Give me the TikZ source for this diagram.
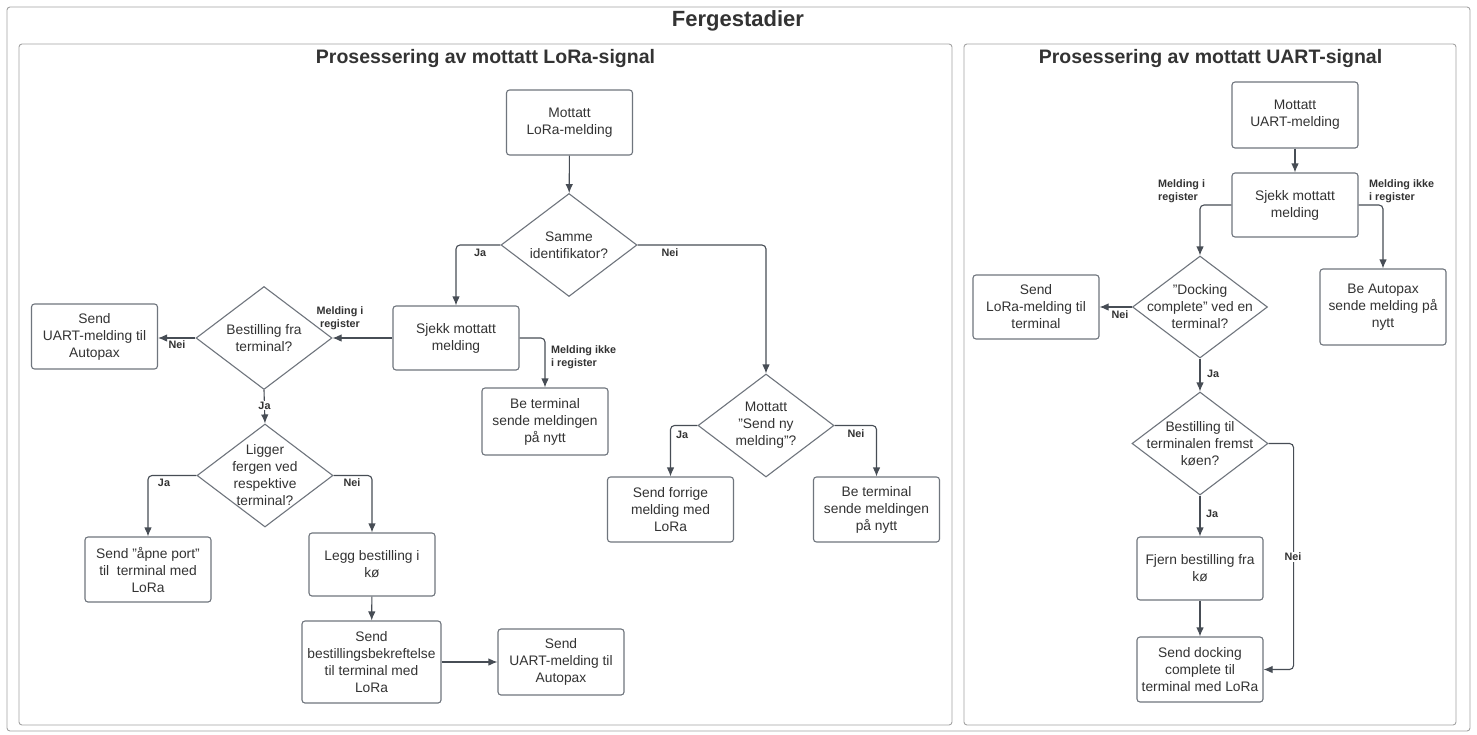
\documentclass[tikz,border=0pt]{standalone}
\usepackage{fontspec}
\setmainfont{Liberation Sans}
\usetikzlibrary{shapes.geometric,arrows.meta}

\definecolor{boxc}{HTML}{6F757D}
\definecolor{linec}{HTML}{474D55}
\definecolor{txtc}{HTML}{333333}
\definecolor{framec}{HTML}{A3A3A3}

\tikzset{
  bodyfont/.style={font=\fontsize{13.8pt}{17pt}\selectfont},
  stepbox/.style={draw=boxc, line width=1.1pt, rounded corners=3pt, fill=white,
    minimum width=126pt, minimum height=65pt, align=center, bodyfont,
    text=txtc, inner sep=2pt},
  decision/.style={diamond, draw=boxc, line width=1.1pt, fill=white,
    minimum width=136pt, minimum height=103pt, inner sep=0pt},
  dtext/.style={align=center, bodyfont, text=txtc, inner sep=0pt},
  conn/.style={draw=linec, line width=1.1pt, rounded corners=4pt,
    -{Latex[length=9pt,width=7.5pt]}},
  lab/.style={font=\bfseries\fontsize{10.8pt}{13pt}\selectfont, text=txtc,
    inner sep=1pt},
  panel/.style={draw=framec, line width=0.9pt, rounded corners=3pt},
  ptitle/.style={font=\bfseries\fontsize{19.5pt}{22pt}\selectfont, text=txtc},
}

\begin{document}
\begin{tikzpicture}[x=1pt, y=-1pt]
\useasboundingbox (0,0) rectangle (1477,734);
\fill[white] (0,0) rectangle (1477,734);

% frames and titles
\draw[panel] (7,7) rectangle (1470,731);
\node[font=\bfseries\fontsize{22pt}{24pt}\selectfont, text=txtc] (maintitle) at (738,21) {Fergestadier};
\draw[panel] (19,44) rectangle (952,725);
\node[ptitle] (titleL) at (485.5,58) {Prosessering av mottatt LoRa-signal};
\draw[panel] (964,44) rectangle (1456,725);
\node[ptitle] (titleR) at (1210.5,58) {Prosessering av mottatt UART-signal};

% ---------------- LoRa processing ----------------
\node[stepbox] (lora) at (569.5,122.5) {Mottatt\\LoRa-melding};
\node[decision, label={[dtext]center:Samme\\identifikator?}] (same) at (569,245) {};
\draw[conn] (lora) -- (same);

\node[stepbox, minimum height=64pt] (sjekkL) at (456,338) {Sjekk mottatt\\melding};
\draw[conn] (same.west) -| (sjekkL.north);
\node[lab] (jaSame) at (480,253) {Ja};

\node[decision, label={[dtext]center:Mottatt\\"Send ny\\melding"?}] (sendny) at (766,425.5) {};
\draw[conn] (same.east) -| (sendny.north);
\node[lab] (neiSame) at (670,253) {Nei};

\node[stepbox] (forrige) at (670.5,509.5) {Send forrige\\melding med\\LoRa};
\node[stepbox] (beT2) at (876.5,509.5) {Be terminal\\sende meldingen\\på nytt};
\draw[conn] (sendny.west) -| (forrige.north);
\draw[conn] (sendny.east) -| (beT2.north);
\node[lab] (jaNy) at (682,435) {Ja};
\node[lab] (neiNy) at (856,434) {Nei};

\node[stepbox, minimum height=67pt] (beT1) at (545,421.5) {Be terminal\\sende meldingen\\på nytt};
\draw[conn] (sjekkL.east) -| (beT1.north);
\node[lab, anchor=west, align=left] (ikkeL) at (550,357.5) {Melding ikke\\i register};

\node[decision, label={[dtext]center:Bestilling fra\\terminal?}] (bestfra) at (264,338) {};
\draw[conn] (sjekkL.west) -- (bestfra.east);
\node[lab, align=center] (iregL) at (340,318) {Melding i\\register};

\node[stepbox] (uartL) at (94.5,336.5) {Send\\UART-melding til\\Autopax};
\draw[conn] (bestfra.west) -- (bestfra.west -| uartL.east);
\node[lab] (neiBest) at (177,345) {Nei};

\node[decision, label={[dtext]center:Ligger\\fergen ved\\respektive\\terminal?}] (ligger) at (265,475.5) {};
\draw[conn] (bestfra.south) -- (ligger.north);
\node[lab, fill=white] (jaBest) at (264.5,405.5) {Ja};

\node[stepbox] (aapne) at (148,569.5) {Send "åpne port"\\til\ \ terminal med\\LoRa};
\draw[conn] (ligger.west) -| (aapne.north);
\node[lab] (jaLig) at (164,483) {Ja};

\node[stepbox, minimum height=63pt] (legg) at (372,564.5) {Legg bestilling i\\kø};
\draw[conn] (ligger.east) -| (legg.north);
\node[lab] (neiLig) at (352,483) {Nei};

\node[stepbox, minimum width=139pt, minimum height=82pt] (bekr) at (371.5,662) {Send\\bestillingsbekreftelse\\til terminal med\\LoRa};
\draw[conn] (legg) -- (bekr);

\node[stepbox, minimum height=66pt] (uartL2) at (561,662) {Send\\UART-melding til\\Autopax};
\draw[conn] (bekr) -- (uartL2);

% ---------------- UART processing ----------------
\node[stepbox, minimum height=66pt] (uart) at (1295,115) {Mottatt\\UART-melding};
\node[stepbox, minimum height=64pt] (sjekkR) at (1295,205) {Sjekk mottatt\\melding};
\draw[conn] (uart) -- (sjekkR);

\node[decision, minimum width=135pt, minimum height=102pt,
  label={[dtext]center:"Docking\\complete" ved en\\terminal?}] (dock) at (1200,307) {};
\draw[conn] (sjekkR.west) -| (dock.north);
\node[lab, anchor=west, align=left] (iregR) at (1157,191) {Melding i\\register};

\node[stepbox, minimum height=76pt] (beA) at (1383,307) {Be Autopax\\sende melding på\\nytt};
\draw[conn] (sjekkR.east) -| (beA.north);
\node[lab, anchor=west, align=left] (ikkeR) at (1368,191) {Melding ikke\\i register};

\node[stepbox, minimum height=64pt] (loraT) at (1036,307) {Send\\LoRa-melding til\\terminal};
\draw[conn] (dock.west) -- (loraT.east);
\node[lab] (neiDock) at (1120,315) {Nei};

\node[decision, label={[dtext]center:Bestilling til\\terminalen fremst\\køen?}] (fremst) at (1200,443.5) {};
\draw[conn] (dock.south) -- (fremst.north);
\node[lab, anchor=west] (jaDock) at (1206,374) {Ja};

\node[stepbox, minimum height=63pt] (fjern) at (1200,568.5) {Fjern bestilling fra\\kø};
\draw[conn] (fremst.south) -- (fjern.north);
\node[lab, anchor=west] (jaFremst) at (1205,514) {Ja};

\node[stepbox] (docking) at (1200,669.5) {Send docking\\complete til\\terminal med LoRa};
\draw[conn] (fjern) -- (docking);
\draw[conn] (fremst.east) -- ++(25,0) |- (docking.east);
\node[lab, fill=white] (neiFremst) at (1293,557) {Nei};
\end{tikzpicture}
\end{document}
